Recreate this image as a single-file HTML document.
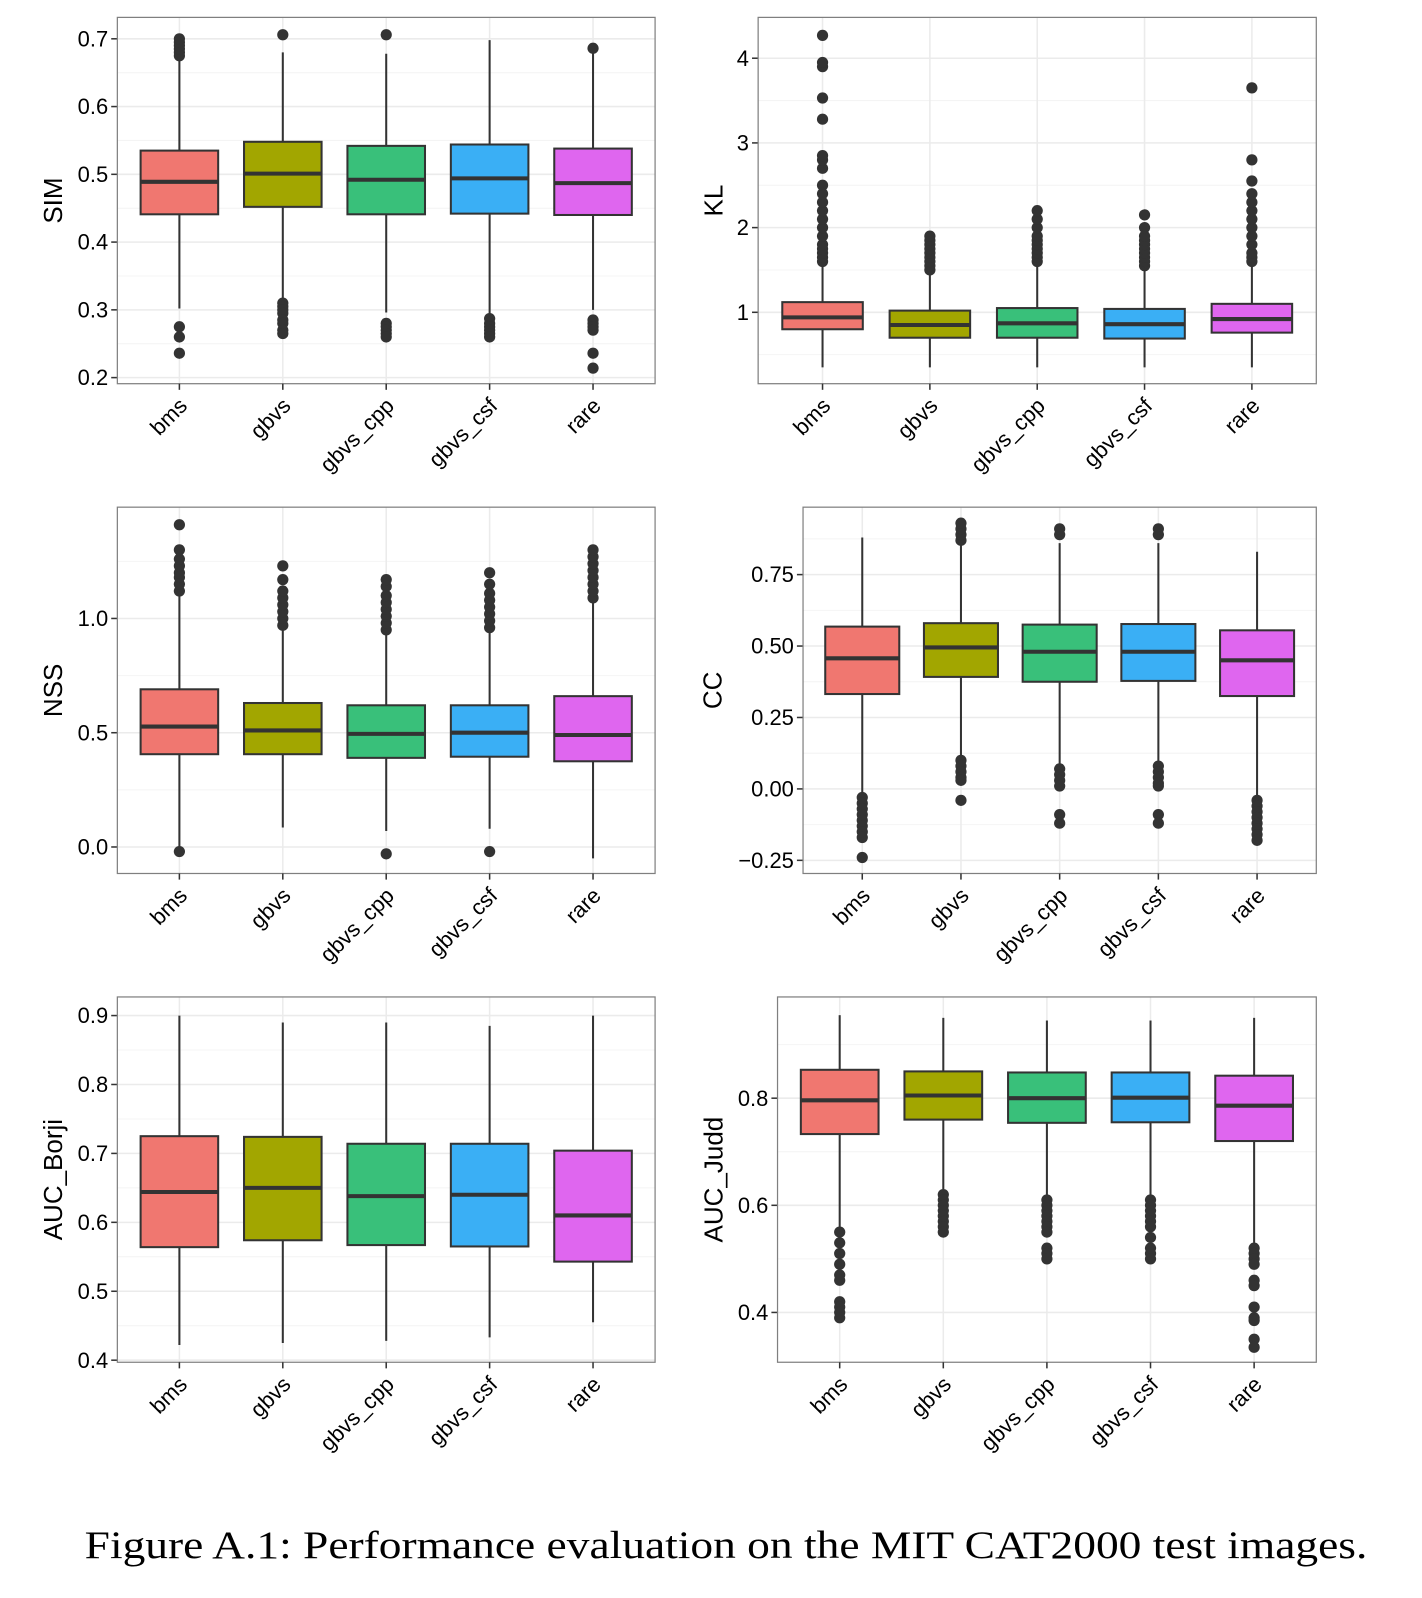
<!DOCTYPE html>
<html><head><meta charset="utf-8"><style>
html,body{margin:0;padding:0;background:#fff;}
svg{display:block;}
</style></head><body>
<svg id="fig" width="1422" height="1598" viewBox="0 0 1393.6 1566" xmlns="http://www.w3.org/2000/svg" font-family="Liberation Sans, Arial, sans-serif">
<text x="83" y="1527" font-family="Liberation Serif, serif" font-size="38" textLength="1257" lengthAdjust="spacingAndGlyphs" fill="#000">Figure A.1: Performance evaluation on the MIT CAT2000 test images.</text>
</svg>
<script>
const categories = ["bms","gbvs","gbvs_cpp","gbvs_csf","rare"];
const fillColors = ["#F07770","#A2A600","#39C07A","#3AAFF5","#DF66EF"];

// SIM
const simLo = [0.302,0.31,0.296,0.29,0.30];
const simQ1 = [0.441,0.452,0.441,0.442,0.44];
const simMed = [0.489,0.501,0.492,0.494,0.487];
const simQ3 = [0.535,0.548,0.542,0.544,0.538];
const simHi = [0.68,0.68,0.678,0.698,0.68];
const simOut = [[0.675,0.68,0.685,0.69,0.695,0.70,0.275,0.26,0.236],[0.706,0.31,0.305,0.30,0.295,0.285,0.28,0.27,0.265],[0.706,0.28,0.275,0.27,0.265,0.26],[0.287,0.28,0.275,0.27,0.265,0.26],[0.686,0.285,0.28,0.275,0.27,0.236,0.214]];
const simTicks = [0.2,0.3,0.4,0.5,0.6,0.7];
const simTickLabels = ["0.2","0.3","0.4","0.5","0.6","0.7"];

// KL
const klLo = [0.35,0.35,0.35,0.35,0.35];
const klQ1 = [0.80,0.70,0.70,0.69,0.76];
const klMed = [0.94,0.85,0.87,0.86,0.92];
const klQ3 = [1.12,1.02,1.05,1.04,1.10];
const klHi = [1.55,1.48,1.55,1.5,1.55];
const klOut = [[1.6,1.65,1.7,1.75,1.8,1.9,2.0,2.1,2.2,2.3,2.4,2.5,2.7,2.8,2.85,3.28,3.53,3.9,3.95,4.27],[1.5,1.55,1.6,1.65,1.7,1.75,1.8,1.85,1.9],[1.6,1.65,1.7,1.75,1.8,1.85,1.9,2.0,2.1,2.2],[1.55,1.6,1.65,1.7,1.75,1.8,1.85,1.9,2.0,2.15],[1.6,1.65,1.7,1.8,1.9,2.0,2.1,2.2,2.3,2.4,2.55,2.8,3.65]];
const klTicks = [1,2,3,4];
const klTickLabels = ["1","2","3","4"];

// NSS
const nssLo = [0.0,0.085,0.07,0.08,-0.05];
const nssQ1 = [0.406,0.406,0.39,0.395,0.375];
const nssMed = [0.527,0.51,0.495,0.50,0.49];
const nssQ3 = [0.69,0.63,0.62,0.62,0.66];
const nssHi = [1.1,0.96,0.94,0.95,1.07];
const nssOut = [[1.12,1.15,1.18,1.2,1.23,1.26,1.3,1.41,-0.02],[0.97,1.0,1.03,1.06,1.09,1.12,1.17,1.23],[0.95,0.98,1.01,1.04,1.07,1.1,1.14,1.17,-0.03],[0.96,0.99,1.02,1.05,1.08,1.11,1.15,1.2,-0.02],[1.09,1.12,1.15,1.18,1.21,1.24,1.27,1.3]];
const nssTicks = [0,0.5,1.0];
const nssTickLabels = ["0.0","0.5","1.0"];

// CC
const ccLo = [-0.02,0.11,0.08,0.085,-0.03];
const ccQ1 = [0.332,0.392,0.375,0.378,0.325];
const ccMed = [0.457,0.495,0.48,0.48,0.45];
const ccQ3 = [0.568,0.58,0.575,0.577,0.555];
const ccHi = [0.88,0.86,0.86,0.86,0.83];
const ccOut = [[-0.03,-0.05,-0.07,-0.09,-0.11,-0.13,-0.15,-0.17,-0.24],[0.87,0.89,0.91,0.93,0.1,0.08,0.06,0.04,0.03,-0.04],[0.89,0.91,0.07,0.05,0.03,0.01,-0.09,-0.12],[0.89,0.91,0.08,0.06,0.04,0.02,0.01,-0.09,-0.12],[-0.04,-0.06,-0.08,-0.1,-0.12,-0.14,-0.16,-0.18]];
const ccTicks = [-0.25,0,0.25,0.5,0.75];
const ccTickLabels = ["\u22120.25","0.00","0.25","0.50","0.75"];

// AUC_Borji
const borjiLo = [0.422,0.425,0.428,0.433,0.455];
const borjiQ1 = [0.564,0.574,0.567,0.565,0.543];
const borjiMed = [0.644,0.65,0.638,0.64,0.61];
const borjiQ3 = [0.725,0.724,0.714,0.714,0.704];
const borjiHi = [0.9,0.89,0.89,0.885,0.9];
const borjiOut = [[],[],[],[],[]];
const borjiTicks = [0.4,0.5,0.6,0.7,0.8,0.9];
const borjiTickLabels = ["0.4","0.5","0.6","0.7","0.8","0.9"];

// AUC_Judd
const juddLo = [0.555,0.63,0.62,0.62,0.53];
const juddQ1 = [0.733,0.76,0.754,0.755,0.72];
const juddMed = [0.796,0.805,0.80,0.801,0.786];
const juddQ3 = [0.853,0.85,0.848,0.848,0.842];
const juddHi = [0.955,0.95,0.945,0.945,0.95];
const juddOut = [[0.55,0.53,0.51,0.49,0.47,0.46,0.42,0.41,0.40,0.39],[0.62,0.61,0.60,0.59,0.58,0.57,0.56,0.55],[0.61,0.60,0.59,0.58,0.57,0.56,0.55,0.52,0.51,0.50],[0.61,0.60,0.59,0.58,0.57,0.56,0.54,0.52,0.51,0.50],[0.52,0.51,0.50,0.49,0.46,0.45,0.41,0.39,0.385,0.35,0.335]];
const juddTicks = [0.4,0.6,0.8];
const juddTickLabels = ["0.4","0.6","0.8"];

const NS = "http://www.w3.org/2000/svg";
const svg = document.getElementById('fig');
function mk(tag, attrs, parent){
  const e = document.createElementNS(NS, tag);
  for (const k in attrs) e.setAttribute(k, attrs[k]);
  (parent||svg).appendChild(e);
  return e;
}

function panel(p){
  const g = mk('g', {});
  
  
  const y = v => p.y1 - (v - p.vmin) / (p.vmax - p.vmin) * (p.y1 - p.y0);
  const unit = (p.x1 - p.x0) / 5.2;
  const x = i => p.x0 + unit * (0.6 + i);
  mk('rect', {x:p.x0, y:p.y0, width:p.x1-p.x0, height:p.y1-p.y0, fill:'#fff'}, g);
  for (let i = 0; i < p.ticks.length + 1; i++) {
    const step = p.ticks[1] - p.ticks[0];
    const mv = p.ticks[0] + step * (i - 0.5);
    if (mv > p.vmin && mv < p.vmax) {
      const yy = y(mv);
      mk('line', {x1:p.x0, x2:p.x1, y1:yy, y2:yy, stroke:'#f4f4f4', 'stroke-width':1}, g);
    }
  }
  p.ticks.forEach((t, i) => {
    const yy = y(t);
    mk('line', {x1:p.x0, x2:p.x1, y1:yy, y2:yy, stroke:'#ebebeb', 'stroke-width':1.5}, g);
    mk('line', {x1:p.x0-6, x2:p.x0, y1:yy, y2:yy, stroke:'#333', 'stroke-width':1.5}, g);
    const lab = mk('text', {x:p.x0-9, y:yy+7.5, 'text-anchor':'end', 'font-size':21.5, fill:'#000'}, g);
    lab.textContent = p.tickLabels[i];
    
    
  });
  categories.forEach((c, i) => {
    const xx = x(i);
    mk('line', {x1:xx, x2:xx, y1:p.y0, y2:p.y1, stroke:'#ebebeb', 'stroke-width':1.5}, g);
  });
  mk('rect', {x:p.x0, y:p.y0, width:p.x1-p.x0, height:p.y1-p.y0, fill:'none', stroke:'#7f7f7f', 'stroke-width':1.2}, g);
  const bw = unit * 0.75;
  categories.forEach((c, i) => {
    const xx = x(i);
    const bg = mk('g', {}, g);
    
    
    mk('line', {x1:xx, x2:xx, y1:y(p.hi[i]), y2:y(p.q3[i]), stroke:'#333', 'stroke-width':2}, bg);
    mk('line', {x1:xx, x2:xx, y1:y(p.q1[i]), y2:y(p.lo[i]), stroke:'#333', 'stroke-width':2}, bg);
    mk('rect', {x:xx-bw/2, y:y(p.q3[i]), width:bw, height:y(p.q1[i])-y(p.q3[i]), fill:fillColors[i], stroke:'#333', 'stroke-width':2}, bg);
    mk('line', {x1:xx-bw/2, x2:xx+bw/2, y1:y(p.med[i]), y2:y(p.med[i]), stroke:'#333', 'stroke-width':4}, bg);
    p.out[i].forEach(v => {
      const d = mk('circle', {cx:xx, cy:y(v), r:5.5, fill:'#333'}, bg);
      
      
    });
    mk('line', {x1:xx, x2:xx, y1:p.y1, y2:p.y1+6, stroke:'#333', 'stroke-width':1.5}, g);
    const lab = mk('text', {x:xx+9, y:p.y1+23, 'text-anchor':'end', 'font-size':21.5, fill:'#000', transform:`rotate(-45 ${xx+9} ${p.y1+23})`}, g);
    lab.textContent = c;
    
    
  });
  const ty = (p.y0 + p.y1) / 2;
  const t = mk('text', {x:p.tx, y:ty, 'text-anchor':'middle', 'font-size':25.5, fill:'#000', transform:`rotate(-90 ${p.tx} ${ty})`}, g);
  t.textContent = p.title;
  
  
}

panel({name:'sim', title:'SIM', x0:115, x1:642, y0:17, y1:376, vmin:0.191, vmax:0.7316, tx:61,
  lo:simLo, q1:simQ1, med:simMed, q3:simQ3, hi:simHi, out:simOut, ticks:simTicks, tickLabels:simTickLabels});
panel({name:'kl', title:'KL', x0:743, x1:1290, y0:17, y1:376, vmin:0.157, vmax:4.482, tx:708,
  lo:klLo, q1:klQ1, med:klMed, q3:klQ3, hi:klHi, out:klOut, ticks:klTicks, tickLabels:klTickLabels});
panel({name:'nss', title:'NSS', x0:115, x1:642, y0:497, y1:856, vmin:-0.116, vmax:1.487, tx:61,
  lo:nssLo, q1:nssQ1, med:nssMed, q3:nssQ3, hi:nssHi, out:nssOut, ticks:nssTicks, tickLabels:nssTickLabels});
panel({name:'cc', title:'CC', x0:787, x1:1290, y0:497, y1:856, vmin:-0.296, vmax:0.986, tx:707,
  lo:ccLo, q1:ccQ1, med:ccMed, q3:ccQ3, hi:ccHi, out:ccOut, ticks:ccTicks, tickLabels:ccTickLabels});
panel({name:'auc-borji', title:'AUC_Borji', x0:115, x1:642, y0:977, y1:1335, vmin:0.397, vmax:0.927, tx:61,
  lo:borjiLo, q1:borjiQ1, med:borjiMed, q3:borjiQ3, hi:borjiHi, out:borjiOut, ticks:borjiTicks, tickLabels:borjiTickLabels});
panel({name:'auc-judd', title:'AUC_Judd', x0:762, x1:1290, y0:977, y1:1335, vmin:0.307, vmax:0.989, tx:708,
  lo:juddLo, q1:juddQ1, med:juddMed, q3:juddQ3, hi:juddHi, out:juddOut, ticks:juddTicks, tickLabels:juddTickLabels});
</script>
</body></html>
